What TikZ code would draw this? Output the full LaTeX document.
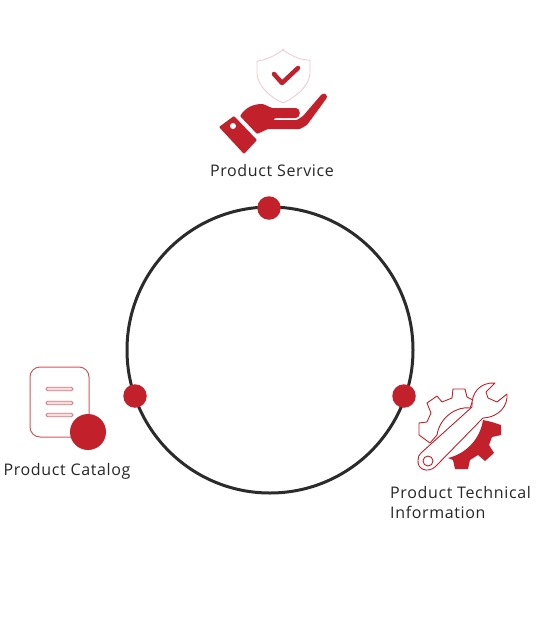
\documentclass[tikz,border=0pt]{standalone}
\usepackage{fontspec}
\setmainfont[LetterSpace=4]{Open Sans}
\definecolor{brandred}{HTML}{C2202A}
\definecolor{ringgray}{HTML}{2B2B2B}
\tikzset{
  dot/.style={circle,fill=brandred,minimum size=23.5pt,inner sep=0pt},
  ring/.style={circle,draw=ringgray,line width=3pt,minimum size=286pt,inner sep=0pt},
  caption/.style={inner sep=0pt,font=\fontsize{16}{20}\selectfont,text=black!85},
  icon/.style={fill=brandred,draw=none},
  outline/.style={draw=brandred,line width=.9pt,fill=white,line join=round}
}
\begin{document}
\begin{tikzpicture}[x=1pt,y=-1pt]
  \useasboundingbox (0,0) rectangle (546,635);

  % Anillo y puntos
  \node[ring] (loop) at (270,350) {};
  \node[dot] (dotservice) at (269,208) {};
  \node[dot] (dotcatalog) at (135,396) {};
  \node[dot] (dottech) at (404,396) {};

  % Escudo y mano
  \draw[draw=brandred!25,line width=.8pt,rounded corners=1pt] (283,50) .. controls (274,56) and (266,60) .. (257,61) -- (257,73) .. controls (258,86) and (270,97) .. (283,103) .. controls (296,97) and (309,86) .. (310,73) -- (310,60) .. controls (300,60) and (292,56) .. cycle;
  \draw[brandred,line width=4.5pt,line cap=round,line join=round] (274,74) -- (282,83) -- (298,68);
  \fill[icon,rounded corners=.8pt] (219,127) -- (234,116) -- (257,140) -- (244,154) -- cycle;
  \fill[white] (233,126) circle (3);
  \fill[icon,rounded corners=1pt] (240,116) .. controls (246,107) and (254,104) .. (263,104) -- (272,108) -- (295,108) .. controls (301,108) and (301,118) .. (295,118) -- (275,118) -- (273,120) -- (297,120) -- (303,116) -- (321,95) .. controls (325,92) and (328,96) .. (326,99) -- (307,125) -- (300,129) -- (268,129) -- (257,134) -- cycle;

  % Engranaje y llave
  \draw[outline] (430,443) -- (419,435) -- (419,423) -- (427,422) -- (431,413) -- (427,403) -- (437,396) -- (442,402) -- (452,398) -- (453,389) -- (465,389) -- (467,397) -- (473,400) -- (470,408) .. controls (458,406) and (440,416) .. (437,435) -- cycle;
  \fill[icon] (483,420) -- (492,422) -- (501,425) -- (501,435) -- (492,437) -- (489,445) -- (494,453) -- (485,461) -- (478,455) -- (470,460) -- (468,469) -- (455,469) -- (453,460) -- (448,458) .. controls (465,454) and (480,440) .. cycle;
  \draw[outline] (421,453) -- (472,407) .. controls (471,393) and (480,382) .. (495,383) -- (486,392) -- (488,398) -- (497,402) -- (507,394) .. controls (508,405) and (500,417) .. (483,418) -- (435,467) .. controls (428,473) and (417,470) .. (418,460) .. controls (418,457) and (419,455) .. cycle;
  \draw[outline] (428,461) circle (5);

  % Documento
  \draw[draw=brandred!75,line width=1pt,rounded corners=10pt] (30,367) rectangle (89,437);
  \foreach \y in {389,403,415}
    \draw[draw=brandred!60,fill=brandred!15,line width=.8pt,rounded corners=1.5pt] (46,\y-1.8) rectangle (73,\y+1.8);
  \fill[icon] (88,432) circle (18);

  % Textos
  \node[caption] (service) at (272,170) {Product Service};
  \node[caption] (catalog) at (67,471.5) {Product Catalog};
  \node[caption,align=left,anchor=north west] (tech) at (390,486) {Product Technical\\Information};
\end{tikzpicture}
\end{document}
